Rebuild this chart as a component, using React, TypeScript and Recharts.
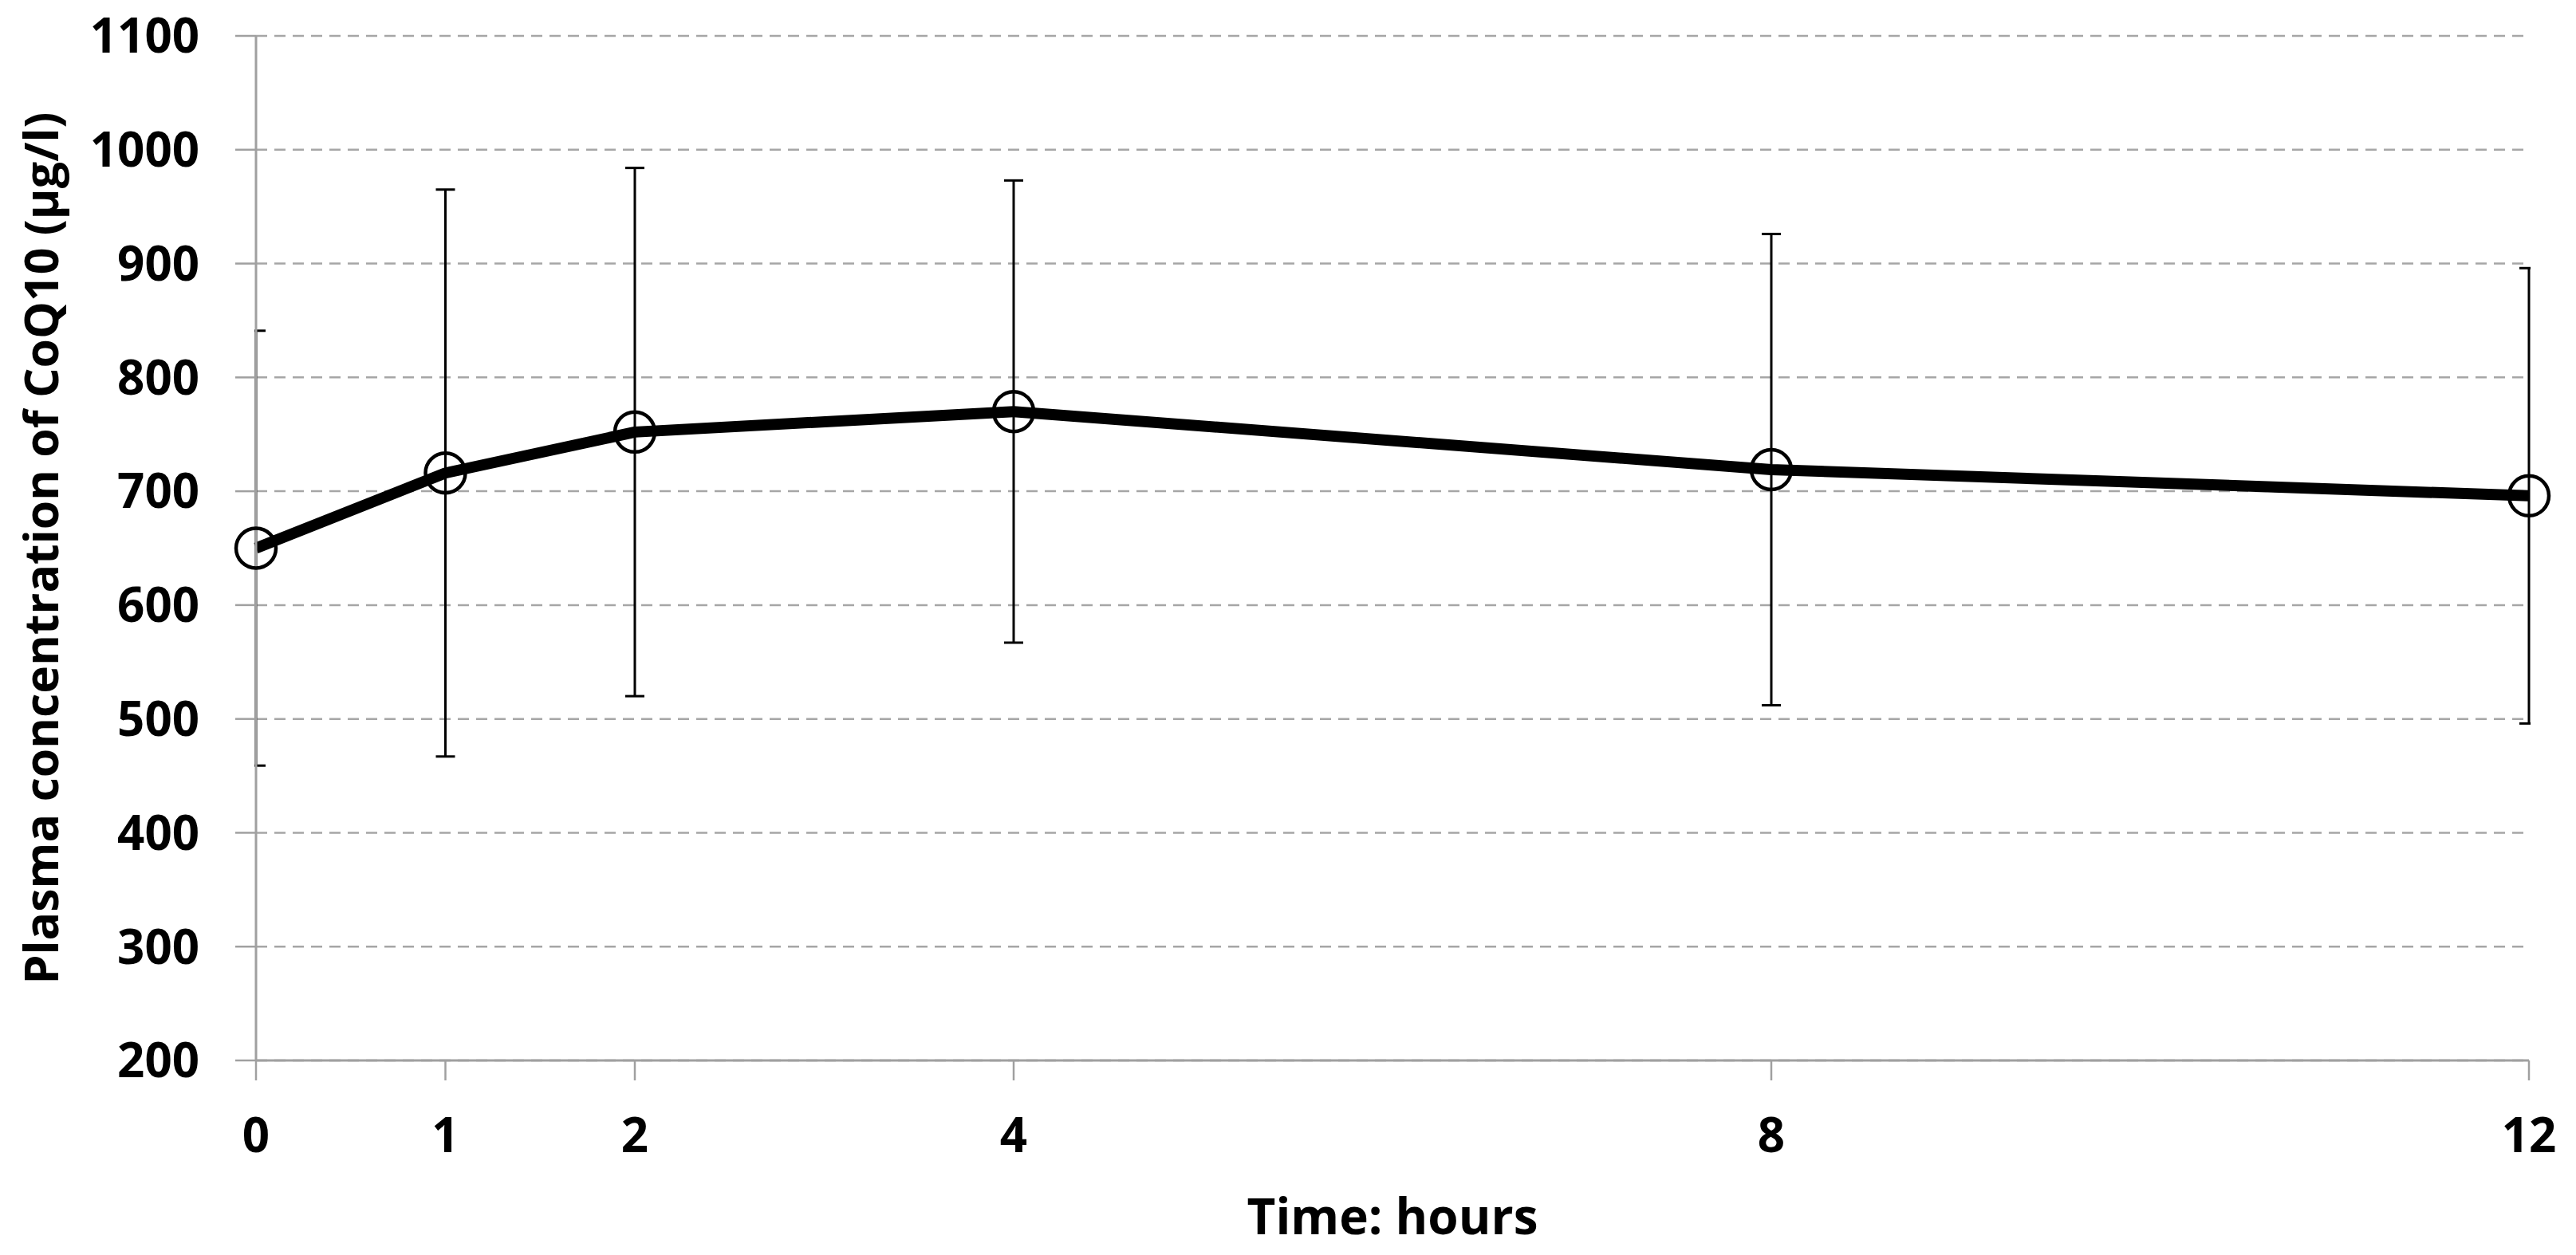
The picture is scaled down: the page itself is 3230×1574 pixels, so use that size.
import React from "react";
import {
  LineChart,
  Line,
  XAxis,
  YAxis,
  CartesianGrid,
  ErrorBar,
  Label,
} from "recharts";

// sampling times (hours) and plasma CoQ10 (µg/l), mean ± SD
const hours = [0, 1, 2, 4, 8, 12];
const meanConc = [650, 716, 752, 770, 719, 696];
const sdConc = [191, 249, 232, 203, 207, 200];

const yTicks = [200, 300, 400, 500, 600, 700, 800, 900, 1000, 1100];

const data = hours.map((h, i) => ({
  hour: h,
  mean: meanConc[i],
  sd: sdConc[i],
}));

const W = 3214;
const H = 1558;
const MARGIN = { top: 37, right: 51, bottom: 0, left: 0 };
const Y_AXIS_W = 313;
const X_AXIS_H = 236;

const FONT = "'Open Sans', 'Noto Sans', sans-serif";
const AXIS_GREY = "#A0A0A0";

const tickStyle = {
  fontSize: 60,
  fontWeight: 700,
  fill: "#000",
  fontFamily: FONT,
};

const YTitle = (props: any) => {
  const vb = props.viewBox || {};
  const cy = (vb.y || 0) + (vb.height || 0) / 2;
  return (
    <text
      transform={`translate(65, ${cy}) rotate(-90)`}
      textAnchor="middle"
      fontSize={59}
      fontWeight={700}
      fontFamily={FONT}
      fill="#000"
    >
      Plasma concentration of CoQ10 (µg/l)
    </text>
  );
};

export default function App() {
  // plot rectangle, used to clip the error bar caps at the edges
  const plotX = MARGIN.left + Y_AXIS_W;
  const plotY = MARGIN.top;
  const plotW = W - plotX - MARGIN.right;
  const plotH = H - MARGIN.top - MARGIN.bottom - X_AXIS_H;

  return (
    <div style={{ width: W, height: H, fontFamily: FONT }}>
      <LineChart width={W} height={H} data={data} margin={MARGIN}>
        <defs>
          <clipPath id="plot-area">
            <rect
              x={plotX - 2}
              y={plotY - 20}
              width={plotW + 4}
              height={plotH + 40}
            />
          </clipPath>
        </defs>
        <CartesianGrid
          vertical={false}
          stroke="#A6A6A6"
          strokeWidth={2.5}
          strokeDasharray="14 9"
        />
        <XAxis
          dataKey="hour"
          type="number"
          domain={[0, 12]}
          ticks={hours}
          interval={0}
          height={X_AXIS_H}
          tickSize={25}
          tickMargin={47}
          axisLine={{ stroke: AXIS_GREY, strokeWidth: 3 }}
          tickLine={{ stroke: AXIS_GREY, strokeWidth: 2.5 }}
          tick={tickStyle}
        >
          <Label
            value="Time: hours"
            position="insideBottom"
            offset={18}
            fontSize={62}
            fontWeight={700}
            fontFamily={FONT}
            fill="#000"
          />
        </XAxis>
        <YAxis
          type="number"
          domain={[200, 1100]}
          ticks={yTicks}
          interval={0}
          width={Y_AXIS_W}
          tickSize={26}
          tickMargin={45}
          axisLine={{ stroke: AXIS_GREY, strokeWidth: 3 }}
          tickLine={{ stroke: AXIS_GREY, strokeWidth: 2.5 }}
          tick={tickStyle}
        >
          <Label content={<YTitle />} />
        </YAxis>
        <Line
          dataKey="mean"
          type="linear"
          stroke="#000"
          strokeWidth={14}
          strokeLinejoin="round"
          isAnimationActive={false}
          dot={{
            r: 25,
            fill: "none",
            stroke: "#000",
            strokeWidth: 4.5,
          }}
          activeDot={false}
        >
          <ErrorBar
            dataKey="sd"
            direction="y"
            width={12}
            stroke="#000"
            strokeWidth={3}
            clipPath="url(#plot-area)"
            isAnimationActive={false}
          />
        </Line>
      </LineChart>
    </div>
  );
}
